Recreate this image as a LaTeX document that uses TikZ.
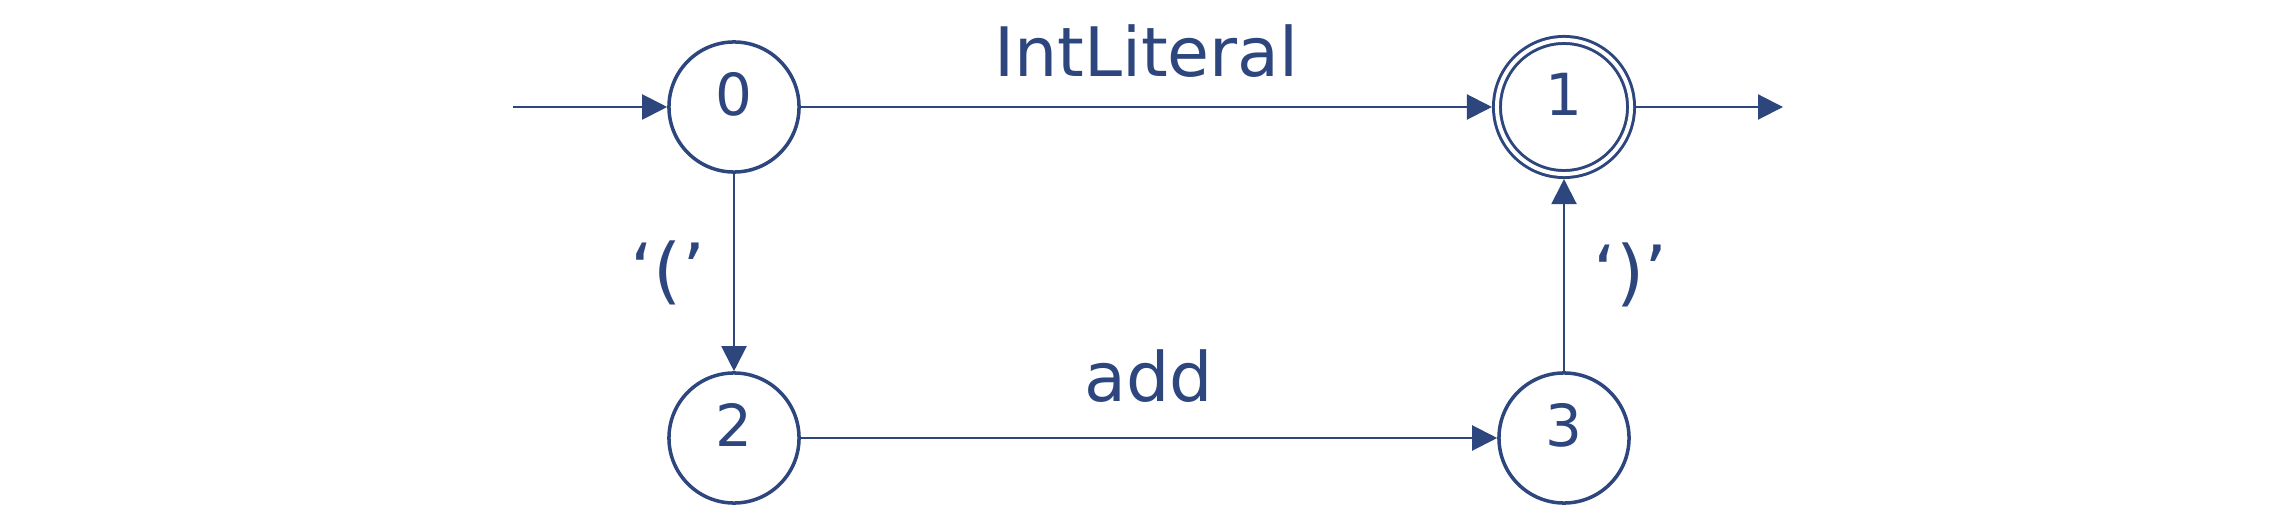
\documentclass[tikz,border=0pt]{standalone}
\usepackage{fontspec}
\setmainfont{DejaVu Sans}
\usetikzlibrary{arrows.meta}
\definecolor{dfablue}{RGB}{46,70,126}

\begin{document}
\begin{tikzpicture}[x=0.01cm, y=0.01cm,
    >={Triangle[length=0.25cm, width=0.25cm]},
    dfastate/.style={circle, draw=dfablue, text=dfablue, line width=1pt,
      minimum size=1.3cm, inner sep=0pt, text depth=0.26cm,
      font=\fontsize{16.5}{19}\selectfont},
    dfaaccept/.style={dfastate, line width=0.85pt, double, double distance=0.04cm,
      minimum size=1.34cm, outer sep=0.05cm},
    trans/.style={->, draw=dfablue, line width=0.6pt},
    lbl/.style={text=dfablue, inner sep=0.28cm, font=\fontsize{19.4}{23}\selectfont}]
  \useasboundingbox (0,0) rectangle (2284,530);
  \def\xl{734}
  \def\xr{1564}
  \def\yt{423}
  \def\yb{92}
  % states
  \node[dfastate] (s0) at (\xl,\yt) {0};
  \node[dfaaccept] (s1) at (\xr,\yt) {1};
  \node[dfastate] (s2) at (\xl,\yb) {2};
  \node[dfastate] (s3) at (\xr,\yb) {3};
  \coordinate (start) at (513,\yt);
  \coordinate (exit) at (1783,\yt);
  % transitions
  \draw[trans] (start) -- (s0);
  \draw[trans] (s1) -- (exit);
  \draw[trans] (s0) -- node[lbl, above]{IntLiteral} (s1);
  \draw[trans] (s0) -- node[lbl, left, font=\fontsize{20.5}{24}\selectfont]{‘(’} (s2);
  \draw[trans] (s2) -- node[lbl, above, yshift=0.06cm]{add} (s3);
  \draw[trans] (s3) -- node[lbl, right, font=\fontsize{20.5}{24}\selectfont]{‘)’} (s1);
\end{tikzpicture}
\end{document}
